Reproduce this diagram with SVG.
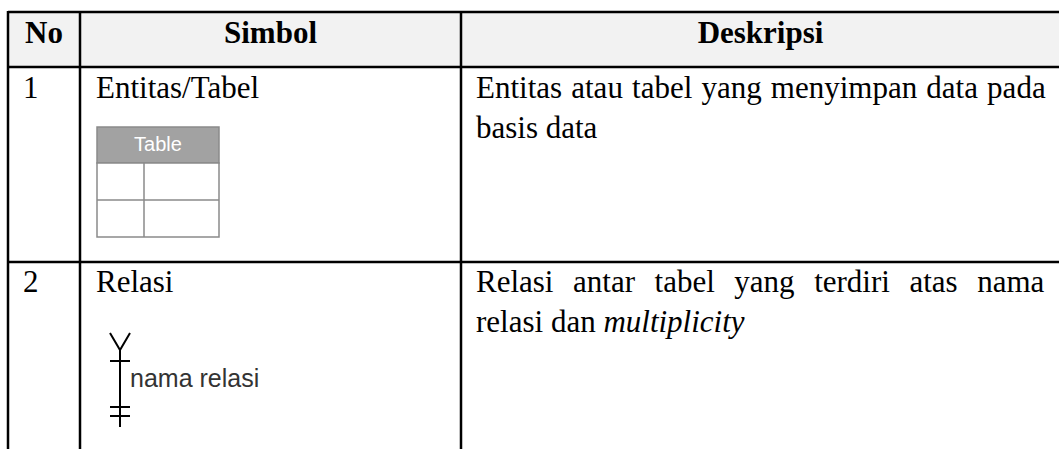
<svg xmlns="http://www.w3.org/2000/svg" width="1059" height="449" viewBox="0 0 1059 449">
  <style>
    .grid { stroke: #000; stroke-width: 2.5; fill: none; }
    .hdr { font-family: "Liberation Serif", "Times New Roman", serif; font-size: 31px; font-weight: bold; fill: #000; text-anchor: middle; }
    .txt { font-family: "Liberation Serif", "Times New Roman", serif; font-size: 31px; fill: #000; }
    .tbl { stroke: #8a8a8a; stroke-width: 1.5; fill: #fff; }
    .tblhead { fill: #a2a2a2; stroke: #8a8a8a; stroke-width: 1.5; }
    .tbltxt { font-family: "Liberation Sans", Arial, sans-serif; font-size: 20px; fill: #fff; text-anchor: middle; }
    .rel { stroke: #000; stroke-width: 2; fill: none; }
    .reltxt { font-family: "Liberation Sans", Arial, sans-serif; font-size: 25px; fill: #333; }
  </style>

  <rect x="8" y="12" width="1060" height="55" fill="#f2f2f2"/>

  <g id="grid">
    <line class="grid" x1="8" y1="12" x2="1070" y2="12"/>
    <line class="grid" x1="8" y1="67" x2="1070" y2="67"/>
    <line class="grid" x1="8" y1="262" x2="1070" y2="262"/>
    <line class="grid" x1="8" y1="11" x2="8" y2="449"/>
    <line class="grid" x1="80" y1="11" x2="80" y2="449"/>
    <line class="grid" x1="461" y1="11" x2="461" y2="449"/>
  </g>

  <g id="header">
    <text class="hdr" x="44" y="43">No</text>
    <text class="hdr" x="270.5" y="43">Simbol</text>
    <text class="hdr" x="760.5" y="43">Deskripsi</text>
  </g>

  <g id="row1">
    <text class="txt" x="23" y="98">1</text>
    <text class="txt" x="96" y="98">Entitas/Tabel</text>
    <text class="txt" x="476" y="98" word-spacing="1.4">Entitas atau tabel yang menyimpan data pada</text>
    <text class="txt" x="476" y="138">basis data</text>
  </g>

  <g id="table-symbol">
    <rect class="tblhead" x="97" y="127" width="122" height="36"/>
    <rect class="tbl" x="97" y="163" width="122" height="74"/>
    <line class="tbl" x1="97" y1="200" x2="219" y2="200"/>
    <line class="tbl" x1="144" y1="163" x2="144" y2="237"/>
    <text class="tbltxt" x="158" y="151">Table</text>
  </g>

  <g id="row2">
    <text class="txt" x="23" y="292">2</text>
    <text class="txt" x="96" y="292">Relasi</text>
    <text class="txt" x="476" y="292" word-spacing="11.8">Relasi antar tabel yang terdiri atas nama</text>
    <text class="txt" x="476" y="332">relasi dan <tspan font-style="italic">multiplicity</tspan></text>
  </g>

  <g id="relation-symbol">
    <polyline class="rel" points="110,333 120,350 130,333"/>
    <line class="rel" x1="120" y1="349" x2="120" y2="427"/>
    <line class="rel" x1="110" y1="361" x2="130" y2="361"/>
    <line class="rel" x1="110" y1="407" x2="130" y2="407"/>
    <line class="rel" x1="110" y1="416" x2="130" y2="416"/>
    <text class="reltxt" x="130" y="387">nama relasi</text>
  </g>
</svg>
